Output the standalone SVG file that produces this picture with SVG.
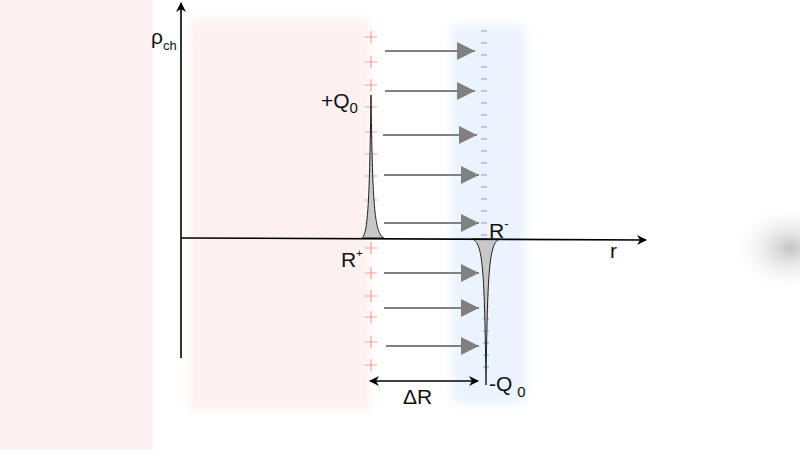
<svg xmlns="http://www.w3.org/2000/svg" width="800" height="450" viewBox="0 0 800 450">
<defs>
<style>
text{font-family:"Liberation Sans",Arial,sans-serif;fill:#111}
.ax{stroke:#000;stroke-width:1.6;fill:none}
.ar{stroke:#808080;stroke-width:2.2}
.p{stroke:#f4a0a0;stroke-width:1.2}
.m{stroke:#8899ee;stroke-width:1.2}
</style>
<marker id="ah" viewBox="0 0 10 10" refX="9" refY="5" markerWidth="10" markerHeight="10" markerUnits="userSpaceOnUse" orient="auto-start-reverse"><path d="M0,0L10,5L0,10L3,5z" fill="#000"/></marker>
<marker id="ga" viewBox="0 0 10 10" refX="10" refY="5" markerWidth="24" markerHeight="18" markerUnits="userSpaceOnUse" orient="auto"><path d="M0,0L10,5L0,10z" fill="#808080"/></marker>
<filter id="bl"><feGaussianBlur stdDeviation="6"/></filter>
<radialGradient id="gb"><stop offset="0" stop-color="#c4c4c4"/><stop offset="1" stop-color="#fff" stop-opacity="0"/></radialGradient>
</defs>
<rect width="800" height="450" fill="#fff"/>
<rect x="0" y="0" width="153" height="450" fill="#fdf1f1"/>
<rect x="190" y="20" width="180" height="390" fill="#fdf0f0" filter="url(#bl)"/>
<rect x="452" y="25" width="73" height="378" fill="#eaf3fe" filter="url(#bl)"/>
<ellipse cx="790" cy="248" rx="60" ry="45" fill="url(#gb)"/>
<g id="charges">
<g class="p">
<path d="M365,37h12M371,31v12M365,62h12M371,56v12M365,85h12M371,79v12M365,107h12M371,101v12M365,132h12M371,126v12M365,154h12M371,148v12M365,176h12M371,170v12M365,200h12M371,194v12M365,223h12M371,217v12M365,248h12M371,242v12M365,273h12M371,267v12M365,296h12M371,290v12M365,317h12M371,311v12M365,342h12M371,336v12M365,365h12M371,359v12"/>
</g>
<g class="m">
<path d="M481,31h6M481,43h6M481,55h6M481,67h6M481,79h6M481,91h6M481,103h6M481,115h6M481,127h6M481,139h6M481,151h6M481,163h6M481,175h6M481,187h6M481,199h6M481,211h6M481,223h6M481,235h6M483,247h6M483,259h6M483,271h6M483,283h6M483,295h6M483,307h6M483,319h6M483,331h6M483,343h6M483,355h6M483,367h6"/>
</g>
</g>
<g id="peaks">
<path d="M362,238C368,234 369.5,200 371,95C372.5,200 374,234 384,238Z" fill="#c8c8c8" stroke="#222" stroke-width="1"/>
<path d="M472,239C483,242 484.5,270 486,385C487.5,270 489,242 500,239Z" fill="#c8c8c8" stroke="#222" stroke-width="1"/>
</g>
<g id="connectors">
<line class="ar" x1="385" y1="51" x2="475" y2="51" marker-end="url(#ga)"/>
<line class="ar" x1="385" y1="91" x2="475" y2="91" marker-end="url(#ga)"/>
<line class="ar" x1="383" y1="135" x2="477" y2="135" marker-end="url(#ga)"/>
<line class="ar" x1="384" y1="175" x2="479" y2="175" marker-end="url(#ga)"/>
<line class="ar" x1="384" y1="223" x2="479" y2="223" marker-end="url(#ga)"/>
<line class="ar" x1="384" y1="273" x2="479" y2="273" marker-end="url(#ga)"/>
<line class="ar" x1="384" y1="308" x2="479" y2="308" marker-end="url(#ga)"/>
<line class="ar" x1="386" y1="346" x2="479" y2="346" marker-end="url(#ga)"/>
<line class="ax" x1="181" y1="358" x2="181" y2="3" marker-end="url(#ah)"/>
<line class="ax" x1="181" y1="238" x2="646" y2="240" marker-end="url(#ah)"/>
<line class="ax" x1="370" y1="381" x2="478" y2="381" marker-start="url(#ah)" marker-end="url(#ah)" style="stroke-width:1.3"/>
</g>
<g id="labels" font-size="21">
<text x="151" y="44">ρ<tspan font-size="13" dy="6">ch</tspan></text>
<text x="321" y="108">+Q<tspan font-size="15" dy="5">0</tspan></text>
<text x="341" y="267">R<tspan font-size="11" dy="-10">+</tspan></text>
<text x="489" y="238">R<tspan font-size="13" dy="-10">-</tspan></text>
<text x="610" y="258">r</text>
<text x="403" y="404">ΔR</text>
<text x="489" y="391">-Q<tspan font-size="15" dx="5" dy="6">0</tspan></text>
</g>
</svg>
